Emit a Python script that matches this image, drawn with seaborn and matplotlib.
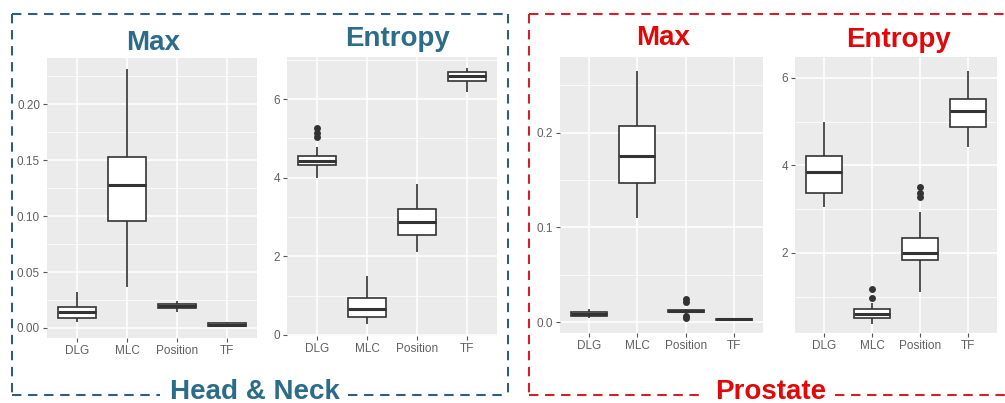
import numpy as np
import pandas as pd
import seaborn as sns
import matplotlib.pyplot as plt
from matplotlib.lines import Line2D

# five-number summaries: (low whisker, q1, median, q3, high whisker)
categories = ["DLG", "MLC", "Position", "TF"]

hn_max_box = [(0.005, 0.009, 0.0145, 0.019, 0.032),
              (0.037, 0.096, 0.128, 0.1525, 0.232),
              (0.014, 0.018, 0.0195, 0.021, 0.024),
              (0.0005, 0.0015, 0.003, 0.004, 0.0055)]
hn_max_out = []

hn_ent_box = [(4.0, 4.33, 4.42, 4.56, 4.79),
              (0.28, 0.46, 0.66, 0.94, 1.5),
              (2.1, 2.55, 2.87, 3.2, 3.85),
              (6.18, 6.46, 6.58, 6.69, 6.79)]
hn_ent_out = [("DLG", 5.04), ("DLG", 5.14), ("DLG", 5.27)]

pr_max_box = [(0.004, 0.006, 0.009, 0.011, 0.014),
              (0.11, 0.147, 0.175, 0.207, 0.2655),
              (0.009, 0.0105, 0.0115, 0.0125, 0.014),
              (0.001, 0.002, 0.003, 0.0035, 0.004)]
pr_max_out = [("Position", 0.004), ("Position", 0.006),
              ("Position", 0.021), ("Position", 0.024)]

pr_ent_box = [(3.05, 3.38, 3.86, 4.21, 4.99),
              (0.38, 0.51, 0.61, 0.72, 0.86),
              (1.11, 1.84, 2.0, 2.34, 2.94),
              (4.43, 4.88, 5.25, 5.52, 6.16)]
pr_ent_out = [("MLC", 0.97), ("MLC", 1.18),
              ("Position", 3.28), ("Position", 3.38), ("Position", 3.5)]

sns.set_theme(style="darkgrid", rc={
    "axes.facecolor": "#EBEBEB",
    "grid.color": "white",
    "xtick.color": "#555555",
    "ytick.color": "#555555",
    "xtick.bottom": True,
    "ytick.left": True,
})
plt.rcParams["font.family"] = ["Liberation Sans", "DejaVu Sans"]

W, H = 1005, 403
fig = plt.figure(figsize=(W / 100, H / 100), dpi=100)


def px_axes(l, r, t, b):
    return fig.add_axes([l / W, 1 - b / H, (r - l) / W, (b - t) / H])


panels = [
    (hn_max_box, hn_max_out, (47, 257, 58, 338), (-0.009, 0.2415),
     [0, 0.05, 0.10, 0.15, 0.20], [0.025, 0.075, 0.125, 0.175, 0.225], "{:.2f}"),
    (hn_ent_box, hn_ent_out, (287, 497, 57, 336), (-0.03, 7.07),
     [0, 2, 4, 6], [1, 3, 5, 7], "{:.0f}"),
    (pr_max_box, pr_max_out, (560, 763, 57, 333), (-0.0116, 0.28),
     [0, 0.1, 0.2], [0.05, 0.15, 0.25], "{:.1f}"),
    (pr_ent_box, pr_ent_out, (795, 997, 57, 333), (0.17, 6.48),
     [2, 4, 6], [1, 3, 5], "{:.0f}"),
]

for box, out, pos, ylim, major, minor, fmt in panels:
    ax = px_axes(*pos)
    df = pd.DataFrame([(c, v) for c, vals in zip(categories, box) for v in vals],
                      columns=["feature", "value"])
    sns.boxplot(data=df, x="feature", y="value", order=categories, ax=ax,
                whis=(0, 100), width=0.75, color="white", linecolor="#333333",
                linewidth=1.2, showcaps=False,
                medianprops={"linewidth": 2.2, "color": "#333333"})
    if out:
        odf = pd.DataFrame(out, columns=["feature", "value"])
        sns.stripplot(data=odf, x="feature", y="value", order=categories, ax=ax,
                      jitter=False, color="#333333", size=5, zorder=5)
    ax.set_xlim(-0.6, 3.6)
    ax.set_ylim(*ylim)
    ax.set_yticks(major)
    ax.set_yticklabels([fmt.format(v) for v in major])
    ax.set_yticks(minor, minor=True)
    ax.grid(True, which="major", color="white", linewidth=1.1)
    ax.grid(True, which="minor", color="white", linewidth=0.55)
    ax.set_xlabel("")
    ax.set_ylabel("")
    ax.tick_params(which="major", length=3, width=0.8, pad=2,
                   labelsize=8.5, labelcolor="#606060")
    ax.tick_params(which="minor", length=0)
    for s in ax.spines.values():
        s.set_visible(False)

hn_col = "#2B6C88"
hn_dash = "#2F5F74"
pr_col = "#E00808"
pr_dash = "#D0202A"


def fig_line(xs, ys, color):
    fig.add_artist(Line2D([x / W for x in xs], [1 - y / H for y in ys],
                          color=color, linewidth=1.5, linestyle=(0, (4.5, 3.2))))


# Head & Neck frame
fig_line([12, 12], [14, 395], hn_dash)
fig_line([12, 508], [14, 14], hn_dash)
fig_line([508, 508], [14, 395], hn_dash)
fig_line([12, 160], [395, 395], hn_dash)
fig_line([348, 508], [395, 395], hn_dash)
# Prostate frame
fig_line([529, 529], [14, 395], pr_dash)
fig_line([529, 1005], [14, 14], pr_dash)
fig_line([529, 702], [395, 395], pr_dash)
fig_line([835, 1005], [395, 395], pr_dash)


def fig_text(x, y, s, color):
    fig.text(x / W, 1 - y / H, s, color=color, fontsize=20, fontweight="bold",
             ha="center", va="baseline")


fig_text(153, 50, "Max", hn_col)
fig_text(397, 46, "Entropy", hn_col)
fig_text(663, 45, "Max", pr_col)
fig_text(899, 47, "Entropy", pr_col)
fig_text(255, 399, "Head & Neck", hn_col)
fig_text(771, 399, "Prostate", pr_col)

fig.savefig("out.png", dpi=100)
